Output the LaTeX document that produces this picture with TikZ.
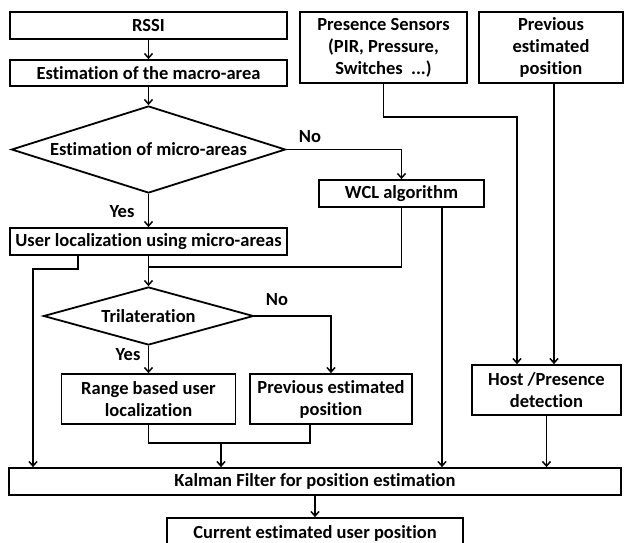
\documentclass[tikz,border=0pt]{standalone}
\usepackage{fontspec}
\setmainfont{Carlito}[Ligatures=NoCommon]
\usetikzlibrary{shapes.geometric,arrows.meta,calc}

\begin{document}
\begin{tikzpicture}[x=1pt,y=-1pt,line width=1.5pt,
  box/.style={draw,line width=1.8pt,inner sep=0pt,align=center},
  dia/.style={draw,diamond,line width=1.8pt,inner sep=0pt},
  lbl/.style={inner sep=0pt},
  every node/.style={font=\bfseries\fontsize{18.5}{22}\selectfont},
  >={Straight Barb[length=4.5pt,width=8pt]}]
\useasboundingbox (0,0) rectangle (624,542);
\clip (0,0) rectangle (624,542);
% left column
\node[box,minimum width=277pt,minimum height=27pt] (rssi) at (148.5,25.5) {RSSI};
\node[box,minimum width=277pt,minimum height=26pt] (macro) at (148.5,73) {Estimation of the macro-area};
\node[dia,minimum width=274pt,minimum height=87pt,shape aspect=3.15] (micro) at (148.5,149.5) {Estimation of micro-areas};
\node[box,minimum width=277pt,minimum height=27pt] (userloc) at (148.5,241.5) {User localization using micro-areas};
\node[dia,minimum width=210pt,minimum height=58pt,shape aspect=3.6] (tri) at (148.5,316) {Trilateration};
\node[box,minimum width=174pt,minimum height=50pt] (range) at (148.5,399) {Range based user\\localization};
\node[box,minimum width=162pt,minimum height=50pt] (prevest) at (331,399) {Previous estimated\\position};
% right side
\node[box,minimum width=167pt,minimum height=71pt] (pres) at (383.5,47.5) {Presence Sensors\\(PIR, Pressure,\\Switches\ \ ...)};
\node[box,minimum width=144pt,minimum height=71pt] (prevtop) at (551,47.5) {Previous\\estimated\\position};
\node[box,minimum width=165pt,minimum height=27pt] (wcl) at (401.5,193.5) {WCL algorithm};
\node[box,minimum width=149pt,minimum height=50pt] (host) at (546.5,390) {Host /Presence\\detection};
% bottom
\node[box,minimum width=612pt,minimum height=27pt] (kalman) at (315,481.5) {Kalman Filter for position estimation};
\node[box,minimum width=296pt,minimum height=30pt] (current) at (315,533) {Current estimated user position};
% labels
\node[lbl] (no1) at (310,137) {No};
\node[lbl] (yes1) at (122,212) {Yes};
\node[lbl] (no2) at (277,300) {No};
\node[lbl] (yes2) at (128,355) {Yes};
% bend points
\coordinate (kL) at (33,269);
\coordinate (jW) at (148.5,267);
\coordinate (jR) at (221,443);
% connectors
\draw[->] (rssi) -- (macro);
\draw[->] (macro) -- (micro);
\draw[->] (micro.east) -| (wcl.north);
\draw[->] (micro.south) -- (userloc.north);
\draw[->] ([xshift=-70.5pt]userloc.south) |- (kL) -- (kL |- kalman.north);
\draw[->] (userloc.south) -- (tri.north);
\draw (wcl.south) |- (jW);
\draw[->] ([xshift=40.5pt]wcl.south) coordinate (w2) -- (w2 |- kalman.north);
\draw[->] (tri.east) -| (prevest.north);
\draw[->] (tri.south) -- (range.north);
\draw (range.south) |- (jR) -| ([xshift=-21pt]prevest.south);
\draw[->] (jR) -- (jR |- kalman.north);
\draw[->] (pres.south) -- ++(0,33) -| ([xshift=-29.5pt]host.north);
\draw[->] ([xshift=3pt]prevtop.south) coordinate (p2) -- (p2 |- host.north);
\draw[->] (host.south) -- (host.south |- kalman.north);
\draw[->] (kalman.south) -- (current.north);
\end{tikzpicture}
\end{document}
